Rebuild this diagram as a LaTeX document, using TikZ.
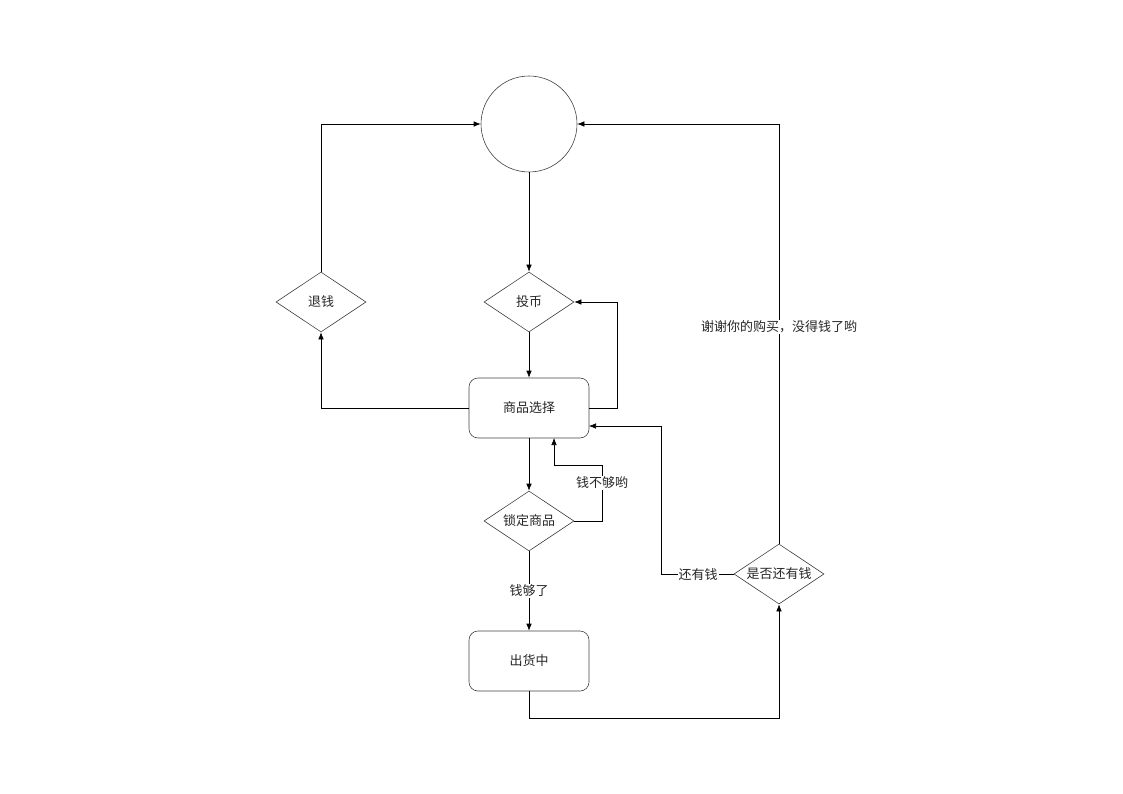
\documentclass[tikz,border=0pt]{standalone}
\usepackage{fontspec}
\setmainfont{Noto Sans CJK SC}
\usetikzlibrary{shapes.geometric,arrows.meta}
\begin{document}
\begin{tikzpicture}[x=1pt,y=-1pt,
  every node/.style={font=\fontsize{13}{15}\selectfont, text=black!85},
  dia/.style={diamond, draw=black!75, line width=0.6pt, minimum width=90pt, minimum height=60pt, aspect=1.5, inner sep=0pt},
  rbox/.style={rectangle, rounded corners=9pt, draw=black!75, line width=0.6pt, minimum width=120pt, minimum height=60pt},
  circ/.style={circle, draw=black!75, line width=0.6pt, minimum size=96pt, inner sep=0pt},
  conn/.style={draw=black, line width=0.6pt, -{Latex[length=7pt,width=5.5pt]}},
  lbl/.style={fill=white, inner sep=1pt}]
\useasboundingbox (0,0) rectangle (1123,794);
\node[circ] (start) at (529,124) {};
\node[dia] (coin) at (529,302) {投币};
\node[dia] (refund) at (321,302) {退钱};
\node[rbox] (select) at (529,408) {商品选择};
\node[dia] (lock) at (529,521) {锁定商品};
\node[rbox] (ship) at (529,661) {出货中};
\node[dia] (more) at (779,574) {是否还有钱};

\coordinate (sR) at (589,426);
\coordinate (sB2) at (554,438);

\draw[conn] (start) -- (coin);
\draw[conn] (coin) -- (select);
\draw[conn] (select.east) -- (617,408) |- (coin.east);
\draw[conn] (select.west) -| (refund.south);
\draw[conn] (refund.north) |- (start.west);
\draw[conn] (select) -- (lock);
\draw[conn] (lock.east) -- (602,521) -- (602,465) -- (554,465) -- (sB2);
\node[lbl] (l1) at (602,483) {钱不够哟};
\draw[conn] (lock) -- (ship);
\node[lbl] (l2) at (529,591) {钱够了};
\draw[conn] (ship.south) -- (529,718) -| (more.south);
\draw[conn] (more.west) -- (661,574) |- (sR);
\node[lbl] (l3) at (698,575) {还有钱};
\draw[conn] (more.north) |- (start.east);
\node[lbl] (l4) at (779,327) {谢谢你的购买，没得钱了哟};
\end{tikzpicture}
\end{document}
